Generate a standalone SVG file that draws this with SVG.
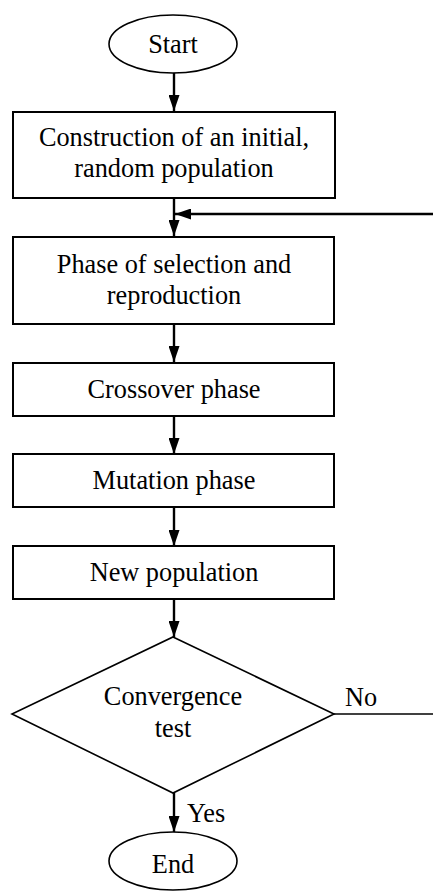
<svg xmlns="http://www.w3.org/2000/svg" width="433" height="891" viewBox="0 0 433 891">
<style>
.box{fill:#fff;stroke:#000;stroke-width:2}
.dia{fill:#fff;stroke:#000;stroke-width:1.6}
.t{font-family:"Liberation Serif","Times New Roman",serif;font-size:26.3px;fill:#000;text-anchor:middle}
.tl{font-family:"Liberation Serif","Times New Roman",serif;font-size:26.3px;fill:#000}
.c{stroke:#000;stroke-width:2.4;fill:none}
.cn{stroke:#000;stroke-width:1.6;fill:none}
</style>
<defs>
<marker id="ah" markerUnits="userSpaceOnUse" markerWidth="16" markerHeight="11" refX="16" refY="5.5" orient="auto">
<path d="M0,0 L16,5.5 L0,11 Z" fill="#000"/>
</marker>
</defs>
<rect width="433" height="891" fill="#fff"/>
<g id="connectors">
<line class="c" x1="174" y1="73" x2="174" y2="111" marker-end="url(#ah)"/>
<line class="c" x1="174" y1="198" x2="174" y2="236" marker-end="url(#ah)"/>
<line class="c" x1="433" y1="214" x2="175" y2="214" marker-end="url(#ah)"/>
<line class="c" x1="174" y1="324" x2="174" y2="362" marker-end="url(#ah)"/>
<line class="c" x1="174" y1="416" x2="174" y2="454" marker-end="url(#ah)"/>
<line class="c" x1="174" y1="507" x2="174" y2="546" marker-end="url(#ah)"/>
<line class="c" x1="174" y1="599" x2="174" y2="637" marker-end="url(#ah)"/>
<line class="cn" x1="334" y1="714" x2="433" y2="714"/>
<line class="c" x1="174" y1="793" x2="174" y2="832" marker-end="url(#ah)"/>
<text class="tl" x="345" y="706">No</text>
<text class="tl" x="187" y="822">Yes</text>
</g>
<g id="start">
<ellipse class="dia" cx="173" cy="44" rx="64" ry="29"/>
<text class="t" x="173" y="53">Start</text>
</g>
<g id="init">
<rect class="box" x="13" y="112" width="322" height="86"/>
<text class="t" x="174" y="146">Construction of an initial,</text>
<text class="t" x="174" y="177">random population</text>
</g>
<g id="selection">
<rect class="box" x="13" y="237" width="321" height="87"/>
<text class="t" x="174" y="273">Phase of selection and</text>
<text class="t" x="174" y="304">reproduction</text>
</g>
<g id="crossover">
<rect class="box" x="13" y="363" width="321" height="53"/>
<text class="t" x="174" y="398">Crossover phase</text>
</g>
<g id="mutation">
<rect class="box" x="13" y="454" width="321" height="53"/>
<text class="t" x="174" y="489">Mutation phase</text>
</g>
<g id="newpop">
<rect class="box" x="13" y="546" width="321" height="53"/>
<text class="t" x="174" y="581">New population</text>
</g>
<g id="convergence">
<polygon class="dia" points="173,637 334,714 173,793 12,714"/>
<text class="t" x="173" y="705">Convergence</text>
<text class="t" x="173" y="737">test</text>
</g>
<g id="end">
<ellipse class="dia" cx="173" cy="861" rx="64" ry="29"/>
<text class="t" x="173" y="873">End</text>
</g>
</svg>
